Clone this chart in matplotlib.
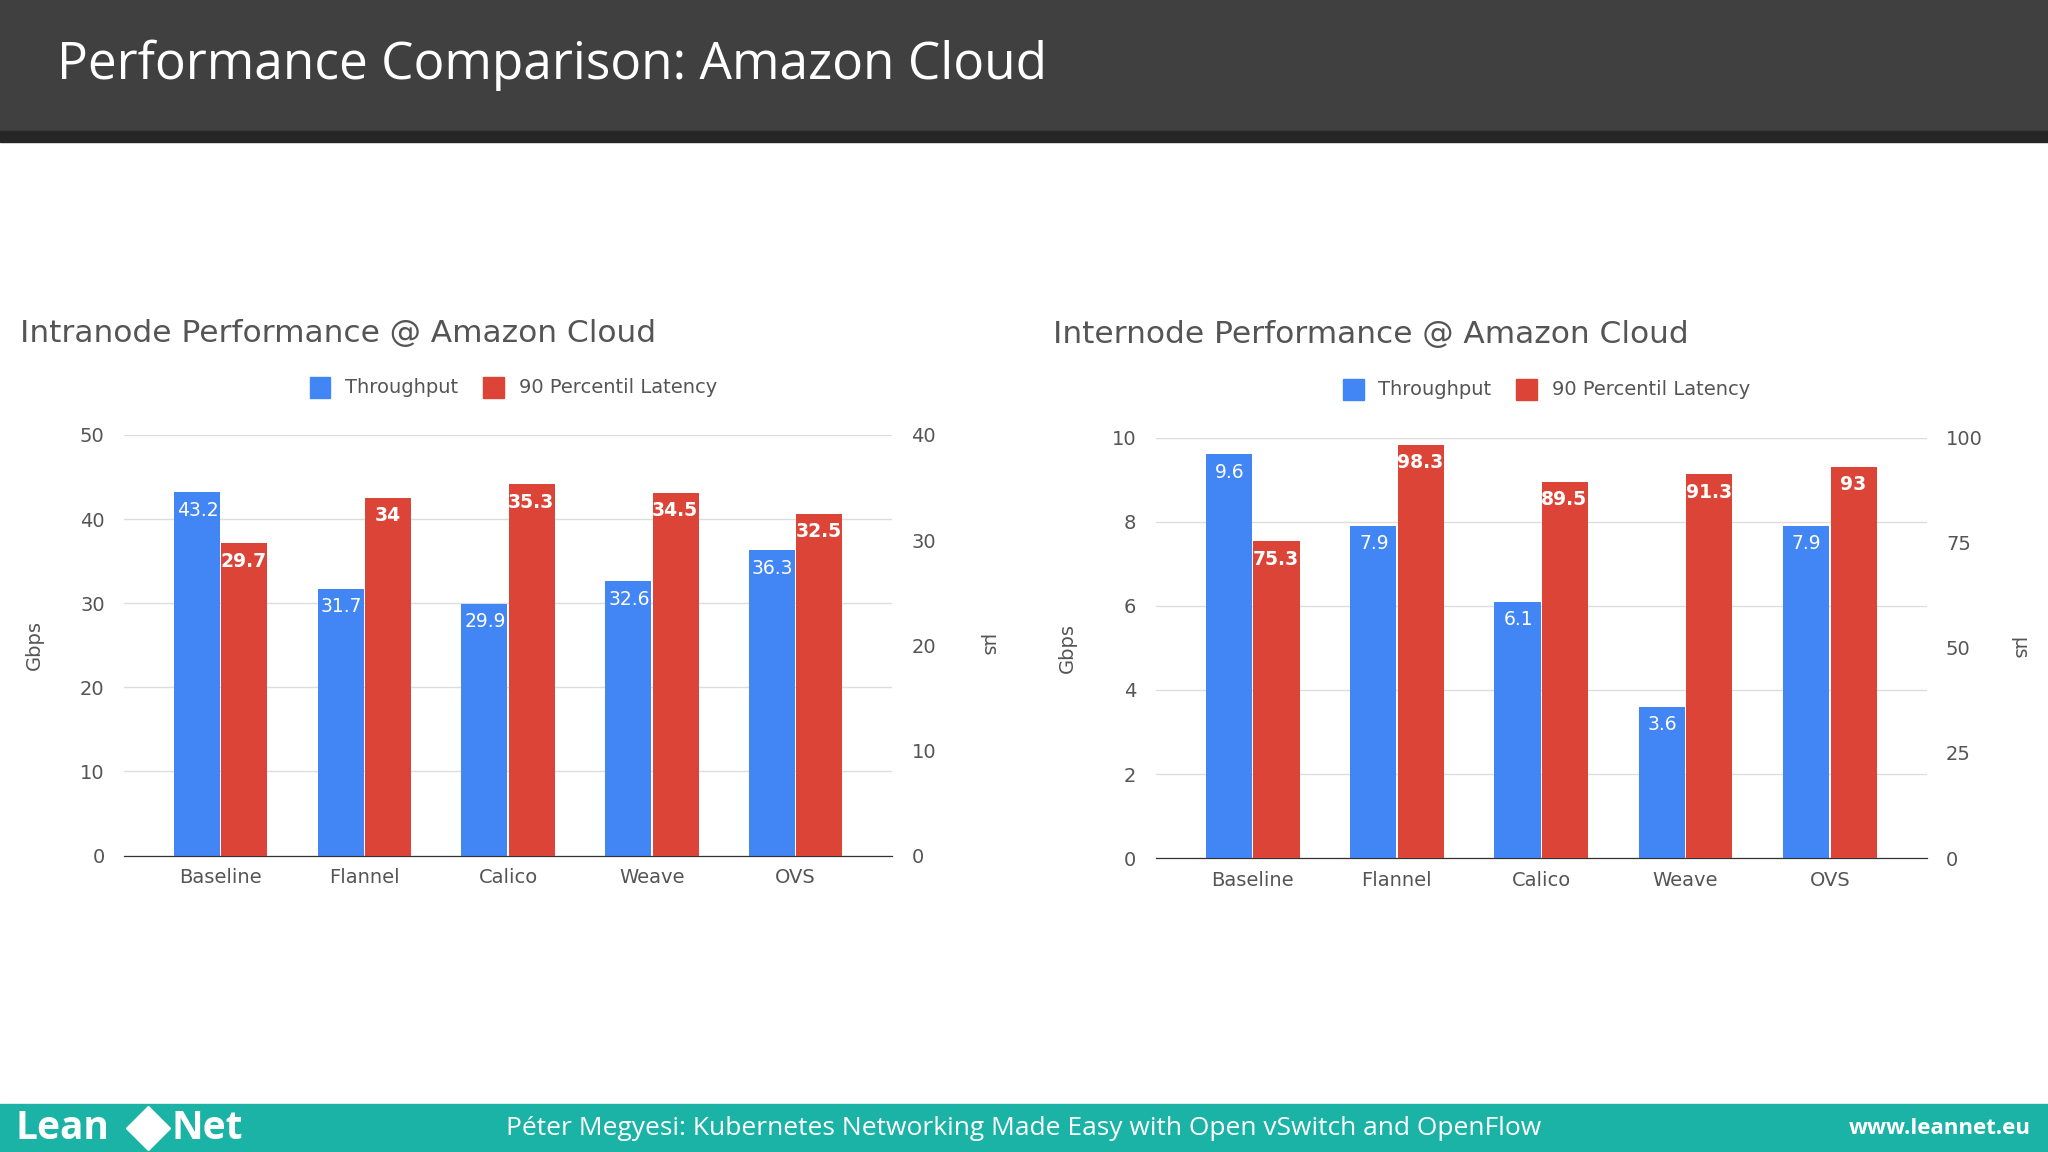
import matplotlib

matplotlib.use("Agg")

import matplotlib.pyplot as plt  # noqa: E402
from matplotlib.lines import Line2D  # noqa: E402
from matplotlib.patches import Rectangle  # noqa: E402

CATEGORIES = ["Baseline", "Flannel", "Calico", "Weave", "OVS"]

INTRA_THROUGHPUT = [43.2, 31.7, 29.9, 32.6, 36.3]
INTRA_LATENCY = [29.7, 34, 35.3, 34.5, 32.5]
INTRA_LEFT_TICKS = [0, 10, 20, 30, 40, 50]
INTRA_RIGHT_TICKS = [0, 10, 20, 30, 40]

INTER_THROUGHPUT = [9.6, 7.9, 6.1, 3.6, 7.9]
INTER_LATENCY = [75.3, 98.3, 89.5, 91.3, 93]
INTER_LEFT_TICKS = [0, 2, 4, 6, 8, 10]
INTER_RIGHT_TICKS = [0, 25, 50, 75, 100]

BLUE = "#4285F4"
RED = "#DB4437"
GRAY = "#555555"
W, H = 1568.0, 882.0


def px_box(x0, y0, x1, y1):
    return [x0 / W, 1 - y1 / H, (x1 - x0) / W, (y1 - y0) / H]


def fmt(v):
    return f"{v:g}"


def draw_chart(fig, box, title, tput, lat, lticks, rticks, title_xy, legend_y, ylab_x, rlab_x):
    ax = fig.add_axes(px_box(*box))
    ax2 = ax.twinx()
    pos = list(range(len(CATEGORIES)))
    bw = 0.32
    ax.bar([p - bw / 2 - 0.005 for p in pos], tput, width=bw, color=BLUE, zorder=3)
    ax2.bar([p + bw / 2 + 0.005 for p in pos], lat, width=bw, color=RED, zorder=3)
    ax.set_ylim(lticks[0], lticks[-1])
    ax2.set_ylim(rticks[0], rticks[-1])
    ax.set_xlim(-0.67, len(pos) - 1 + 0.67)
    ax.set_yticks(lticks)
    ax2.set_yticks(rticks)
    ax.set_xticks(pos)
    ax.set_xticklabels(CATEGORIES)
    ax.grid(axis="y", color="#DDDDDD", linewidth=1, zorder=0)
    for a in (ax, ax2):
        for s in ("top", "right", "left"):
            a.spines[s].set_visible(False)
        a.spines["bottom"].set_color("#333333")
        a.tick_params(length=0, colors=GRAY, labelsize=14, pad=14)
    ax.tick_params(axis="x", pad=9)
    for p, v in zip(pos, tput):
        ax.text(p - bw / 2, v - lticks[-1] * 0.02, fmt(v), ha="center", va="top",
                color="white", fontsize=13.5, zorder=4)
    for p, v in zip(pos, lat):
        ax2.text(p + bw / 2, v - rticks[-1] * 0.02, fmt(v), ha="center", va="top",
                 color="white", fontsize=13.5, fontweight="bold", zorder=4)
    fig.text(title_xy[0] / W, 1 - title_xy[1] / H, title, fontsize=22.5, color=GRAY,
             va="center", ha="left")
    cx = (box[0] + box[2]) / 2
    fig.patches.append(Rectangle(((cx - 152) / W, 1 - (legend_y + 8) / H), 16 / W, 16 / H,
                                 color=BLUE, transform=fig.transFigure))
    fig.text((cx - 125) / W, 1 - legend_y / H, "Throughput", fontsize=14, color=GRAY, va="center")
    fig.patches.append(Rectangle(((cx - 19) / W, 1 - (legend_y + 8) / H), 16 / W, 16 / H,
                                 color=RED, transform=fig.transFigure))
    fig.text((cx + 8) / W, 1 - legend_y / H, "90 Percentil Latency", fontsize=14, color=GRAY,
             va="center")
    mid = 1 - (box[1] + box[3]) / 2 / H
    fig.text(ylab_x / W, mid, "Gbps", rotation=90, fontsize=14, color=GRAY, va="center", ha="center")
    fig.text(rlab_x / W, mid, "µs", rotation=270, fontsize=14, color=GRAY, va="center", ha="center")


fig = plt.figure(figsize=(20.48, 11.52), dpi=100)
fig.patch.set_facecolor("white")

fig.patches.append(Rectangle((0, 1 - 100 / H), 1, 100 / H, color="#404040", transform=fig.transFigure))
fig.patches.append(Rectangle((0, 1 - 109 / H), 1, 9 / H, color="#262626", transform=fig.transFigure))
fig.text(44 / W, 1 - 50 / H, "Performance Comparison: Amazon Cloud", fontsize=37, color="white",
         va="center", family="Open Sans")

fig.patches.append(Rectangle((0, 0), 1, 37 / H, color="#1AB3A6", transform=fig.transFigure))
fig.text(12 / W, 18 / H, "Lean", fontsize=28, fontweight="bold", color="white",
         va="center", family="Open Sans")
fig.add_artist(Line2D([113 / W], [18 / H], marker="D", markersize=22, color="white",
                      transform=fig.transFigure))
fig.text(131 / W, 18 / H, "Net", fontsize=28, fontweight="bold", color="white",
         va="center", family="Open Sans")
fig.text(784 / W, 18 / H, "Péter Megyesi: Kubernetes Networking Made Easy with Open vSwitch and OpenFlow",
         fontsize=19, color="white", va="center", ha="center", family="Open Sans")
fig.text(1555 / W, 18 / H, "www.leannet.eu", fontsize=16, fontweight="bold", color="white",
         va="center", ha="right", family="Open Sans")

draw_chart(fig, (95, 333, 683, 655), "Intranode Performance @ Amazon Cloud",
           INTRA_THROUGHPUT, INTRA_LATENCY, INTRA_LEFT_TICKS, INTRA_RIGHT_TICKS,
           (15, 255), 297, 26, 756)
draw_chart(fig, (885, 335, 1475, 657), "Internode Performance @ Amazon Cloud",
           INTER_THROUGHPUT, INTER_LATENCY, INTER_LEFT_TICKS, INTER_RIGHT_TICKS,
           (806, 256), 298, 817, 1546)

fig.savefig("out.png", dpi=100)
